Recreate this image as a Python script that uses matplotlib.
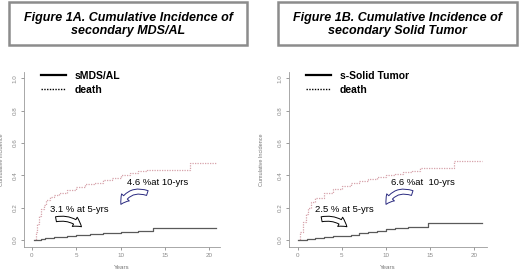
import matplotlib.pyplot as plt
from matplotlib.lines import Line2D
from matplotlib.patches import Rectangle, FancyArrowPatch

plt.rcParams.update({
    "font.family": ["Liberation Sans", "DejaVu Sans"],
    "axes.linewidth": 0.6,
    "xtick.major.width": 0.6,
    "ytick.major.width": 0.6,
    "xtick.major.size": 2.5,
    "ytick.major.size": 2.5,
})

# ---------------------------------------------------------------------------
# Data
# ---------------------------------------------------------------------------
x_ticks = [0, 5, 10, 15, 20]
y_ticks = [0.0, 0.2, 0.4, 0.6, 0.8, 1.0]
y_ticklabels = ["0.0", "0.2", "0.4", "0.6", "0.8", "1.0"]

mds_t = [0.2, 1.0, 1.5, 2.5, 4.0, 5.0, 6.5, 8.0, 10.0, 12.0, 13.6, 20.8]
mds_v = [0, 0.005, 0.012, 0.02, 0.028, 0.031, 0.038, 0.046, 0.048, 0.053, 0.072, 0.072]

deathA_t = [0.2, 0.4, 0.6, 0.8, 1.0, 1.3, 1.6, 2.0, 2.5, 3.0, 4.0, 5.0, 6.0, 7.0,
            8.0, 9.0, 10.0, 11.0, 12.0, 13.0, 17.8, 20.8]
deathA_v = [0, 0.05, 0.1, 0.15, 0.19, 0.22, 0.245, 0.265, 0.28, 0.29, 0.31, 0.33,
            0.345, 0.355, 0.37, 0.385, 0.40, 0.415, 0.425, 0.435, 0.478, 0.478]

tumor_t = [0, 1, 2, 3, 4, 5, 6, 7, 8, 9, 10, 11, 12.5, 14.8, 20.9]
tumor_v = [0, 0.005, 0.01, 0.018, 0.022, 0.025, 0.033, 0.041, 0.05, 0.058, 0.066,
           0.075, 0.082, 0.104, 0.104]

deathB_t = [0, 0.3, 0.6, 0.9, 1.2, 1.5, 2.0, 3.0, 4.0, 5.0, 6.0, 7.0, 8.0, 9.0,
            10.0, 11.0, 12.0, 13.0, 13.9, 17.7, 20.9]
deathB_v = [0, 0.05, 0.11, 0.16, 0.2, 0.235, 0.26, 0.29, 0.315, 0.335, 0.35, 0.365,
            0.378, 0.39, 0.4, 0.41, 0.42, 0.43, 0.446, 0.49, 0.49]

panels = [
    {
        "title": "Figure 1A. Cumulative Incidence of\nsecondary MDS/AL",
        "event": "sMDS/AL",
        "ev_t": mds_t, "ev_v": mds_v,
        "d_t": deathA_t, "d_v": deathA_v,
        "note5": "3.1 % at 5-yrs", "note10": "4.6 %at 10-yrs",
    },
    {
        "title": "Figure 1B. Cumulative Incidence of\nsecondary Solid Tumor",
        "event": "s-Solid Tumor",
        "ev_t": tumor_t, "ev_v": tumor_v,
        "d_t": deathB_t, "d_v": deathB_v,
        "note5": "2.5 % at 5-yrs", "note10": "6.6 %at  10-yrs",
    },
]

# ---------------------------------------------------------------------------
# Layout (pixel based, 520 x 276)
# ---------------------------------------------------------------------------
W, H = 520, 276
fig = plt.figure(figsize=(W / 100, H / 100), dpi=100, facecolor="white")

axes_px = [(24, 247, 196, 175), (289, 247, 198, 175)]
xlims = [(-0.9, 21.2), (-1.0, 21.5)]
boxes_px = [(9, 2, 238, 43), (278, 2, 239, 43)]
ylab_x = [4, 264]

DEATH_COLOR = "#d7a3ab"
EVENT_COLOR = "#5a5a5a"
TICK_COLOR = "#8a8a8a"
ARROW_STYLE = "simple,head_width=5,head_length=4,tail_width=2.4"

for i, p in enumerate(panels):
    l, b, w, h = axes_px[i]
    ax = fig.add_axes([l / W, 1 - b / H, w / W, h / H])
    ax.step(p["d_t"], p["d_v"], where="post", color=DEATH_COLOR, lw=0.9,
            linestyle=(0, (1, 1)))
    ax.step(p["ev_t"], p["ev_v"], where="post", color=EVENT_COLOR, lw=0.9)

    ax.set_xlim(*xlims[i])
    ax.set_ylim(-0.043, 1.04)
    ax.set_xticks(x_ticks)
    ax.set_yticks(y_ticks)
    ax.set_yticklabels(y_ticklabels, rotation=90, va="center")
    ax.tick_params(labelsize=4.5, colors=TICK_COLOR, pad=2)
    for s in ["top", "right"]:
        ax.spines[s].set_visible(False)
    for s in ["left", "bottom"]:
        ax.spines[s].set_color("#9a9a9a")
    ax.set_xlabel("Years", fontsize=4.5, color="#777777", labelpad=5)
    ax.yaxis.set_label_coords((ylab_x[i] - l) / w, 0.55)
    ax.set_ylabel("Cumulative Incidence", fontsize=4, color="#777777")

    handles = [Line2D([], [], color="black", lw=1.6),
               Line2D([], [], color="black", lw=1.0, linestyle=(0, (1, 1)))]
    ax.legend(handles, [p["event"], "death"], loc="upper left",
              bbox_to_anchor=(0.04, 1.06), frameon=False, handlelength=2.4,
              handletextpad=0.8, labelspacing=0.35,
              prop={"weight": "bold", "size": 7.5})

    # annotations
    ax.text(5.3, 0.19, p["note5"], ha="center", va="center", fontsize=6.8)
    ax.text(14.2, 0.355, p["note10"], ha="center", va="center", fontsize=6.8)
    a1 = FancyArrowPatch((2.4, 0.125), (5.8, 0.07),
                         connectionstyle="arc3,rad=-0.3",
                         arrowstyle=ARROW_STYLE,
                         fc="white", ec="black", lw=0.7, mutation_scale=1.5)
    ax.add_patch(a1)
    a2 = FancyArrowPatch((13.3, 0.285), (9.9, 0.205),
                         connectionstyle="arc3,rad=0.5",
                         arrowstyle=ARROW_STYLE,
                         fc="white", ec="#2a2a80", lw=0.7, mutation_scale=1.5)
    ax.add_patch(a2)

    # title box
    bx, by, bw, bh = boxes_px[i]
    fig.patches.append(Rectangle((bx / W, 1 - (by + bh) / H), bw / W, bh / H,
                                 transform=fig.transFigure, fc="white",
                                 ec="#8c8c8c", lw=1.8))
    fig.text((bx + bw / 2) / W, 1 - (by + bh / 2 + 1) / H, p["title"],
             ha="center", va="center", fontsize=9, fontweight="bold",
             fontstyle="italic", linespacing=1.2)

fig.savefig("out.png", dpi=100, facecolor="white")
